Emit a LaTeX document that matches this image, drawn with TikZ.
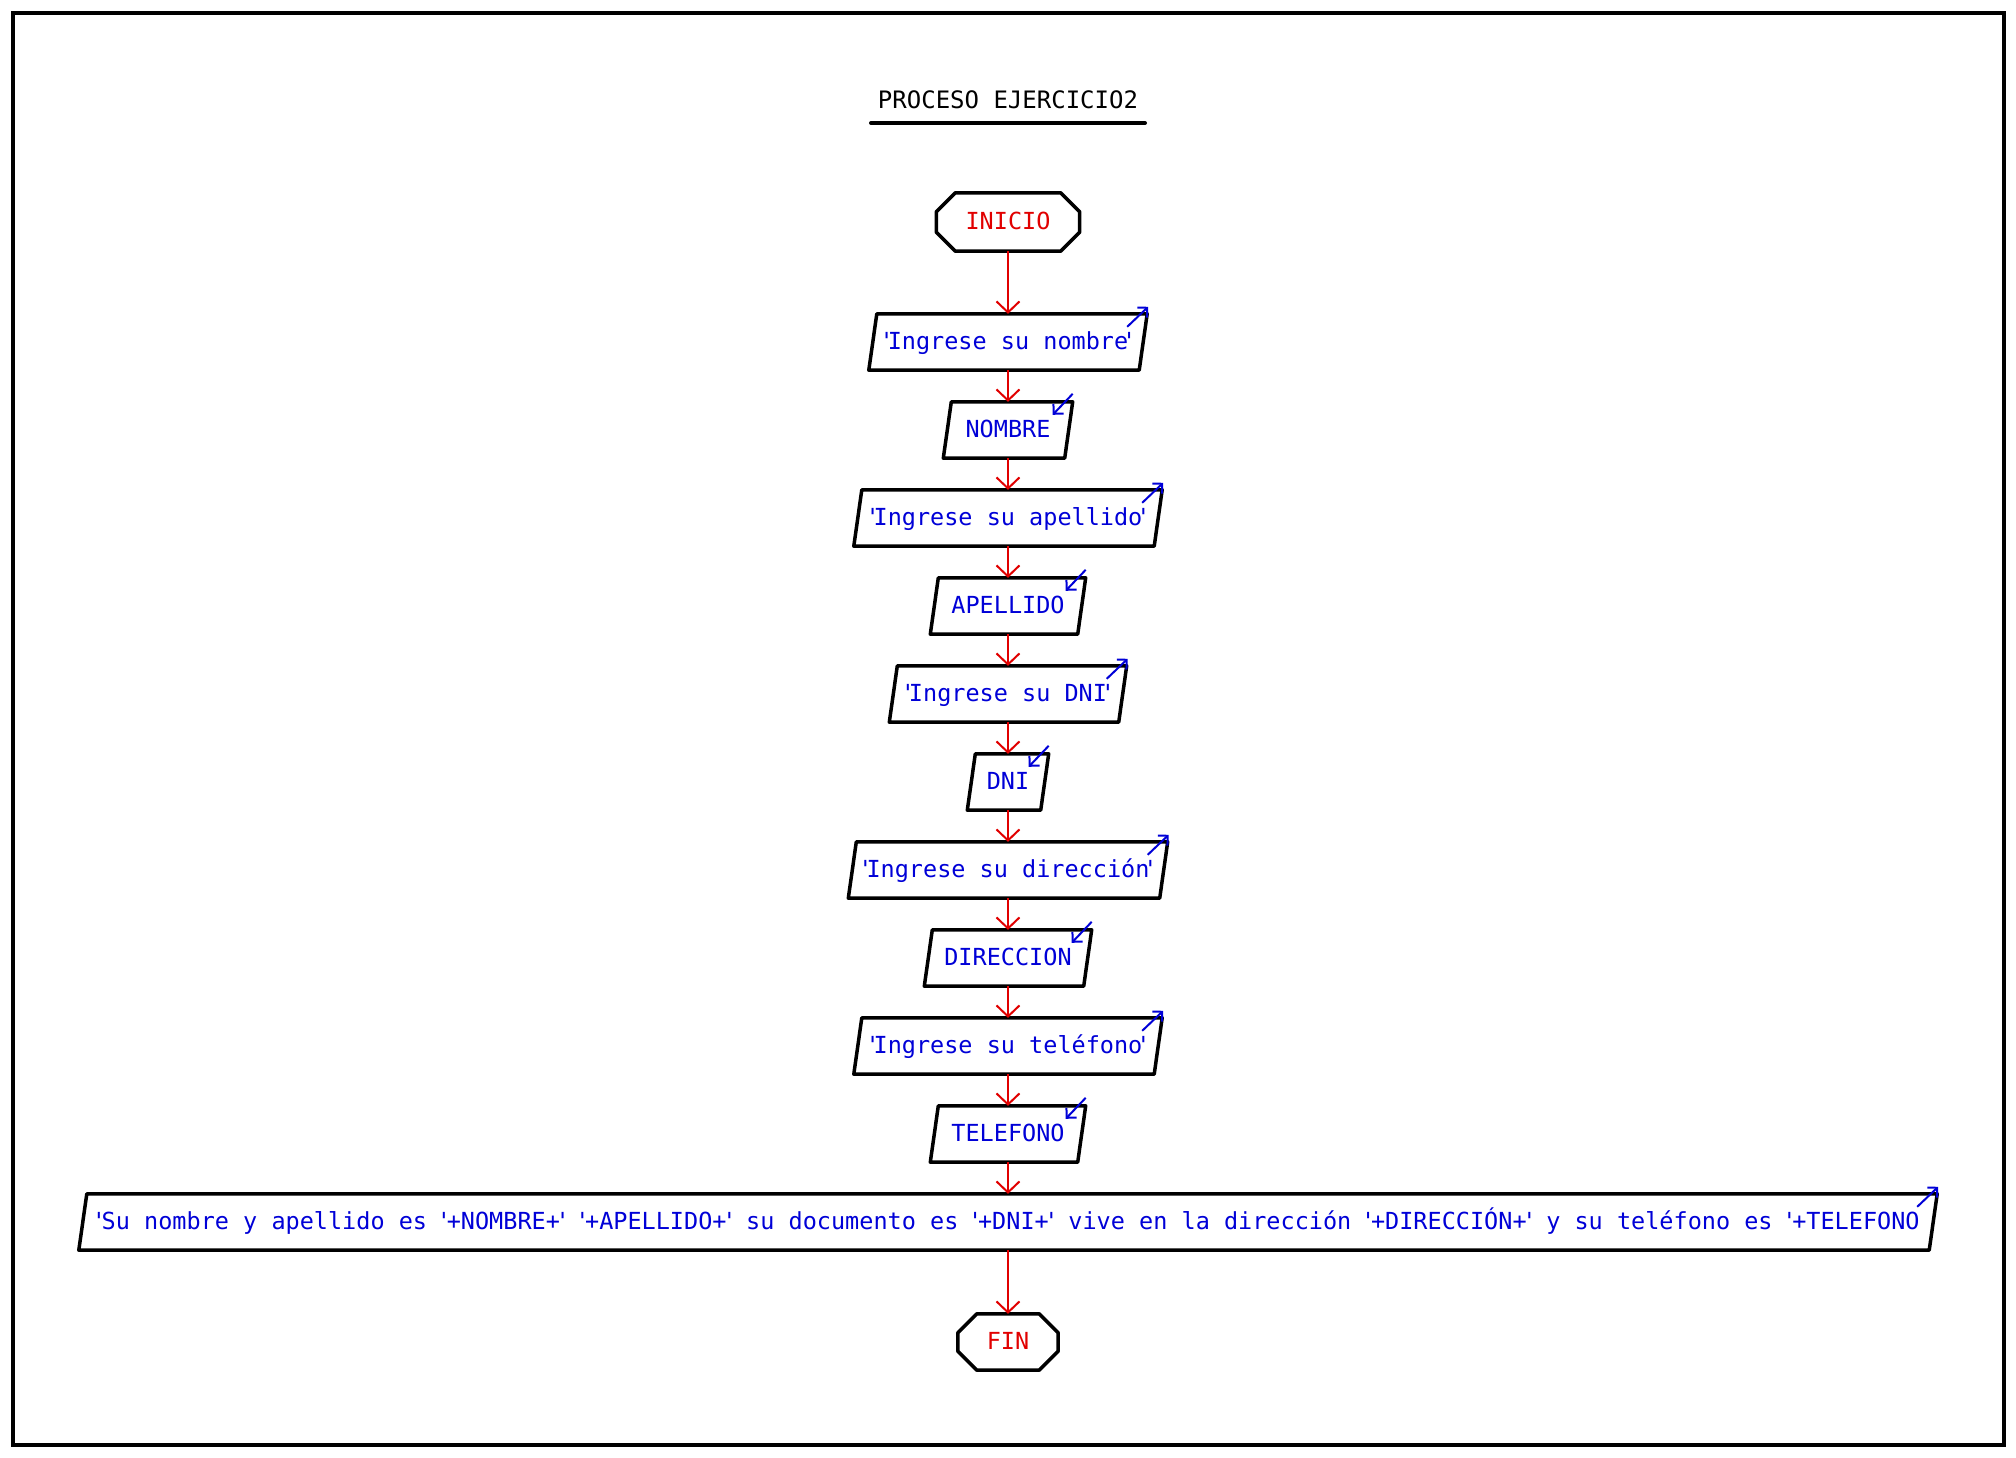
\documentclass[tikz,border=0pt]{standalone}
\usepackage{fontspec}
\newfontfamily\dmono{DejaVu Sans Mono}
\usetikzlibrary{arrows.meta}

\definecolor{flowred}{RGB}{225,0,0}
\definecolor{flowblue}{RGB}{0,0,215}

% narrow straight quotes, as the flowchart prints string delimiters
\newcommand\qt{\makebox[2pt]{\symbol{39}}}
\newcommand\qtw{\makebox[5.5pt]{\symbol{39}}}

\tikzset{
  lbl/.style={font=\dmono\fontsize{23.5}{28}\selectfont, inner sep=0pt,
              text height=17pt, text depth=2pt},
  iobox/.style={lbl, text=flowblue, minimum height=56pt},
  termbox/.style={lbl, text=flowred, minimum height=58pt},
  outline/.style={draw=black, line width=3.5pt, line join=round},
  flow/.style={draw=flowred, line width=2pt, -{Straight Barb[length=11pt,width=23pt]}},
  ioarrow/.style={draw=flowblue, line width=2pt, -{Straight Barb[length=7pt,width=14pt]}},
}

% parallelogram outline around a named node
\newcommand\paraout[1]{%
  \draw[outline] ([xshift=4pt]#1.north west) -- ([xshift=4pt]#1.north east)
    -- ([xshift=-4pt]#1.south east) -- ([xshift=-4pt]#1.south west) -- cycle;}
% octagon outline around a named node
\newcommand\octout[1]{%
  \draw[outline] ([xshift=19pt]#1.north west) -- ([xshift=-19pt]#1.north east)
    -- ([yshift=-19pt]#1.north east) -- ([yshift=19pt]#1.south east)
    -- ([xshift=-19pt]#1.south east) -- ([xshift=19pt]#1.south west)
    -- ([yshift=19pt]#1.south west) -- ([yshift=-19pt]#1.north west) -- cycle;}
% output marker (arrow leaving the top right corner)
\newcommand\outmark[1]{%
  \draw[ioarrow] ([xshift=-16pt,yshift=-13pt]#1.north east) -- ([xshift=5pt,yshift=7pt]#1.north east);}
% input marker (arrow entering the top right corner)
\newcommand\inmark[1]{%
  \draw[ioarrow] ([xshift=4pt,yshift=8pt]#1.north east) -- ([xshift=-16pt,yshift=-13pt]#1.north east);}

\begin{document}
\begin{tikzpicture}[x=1pt,y=-1pt]
\useasboundingbox (0,0) rectangle (2016,1457);

% page frame
\draw[line width=4pt] (13,12.5) rectangle (2004,1444.5);

% title
\node[lbl, font=\dmono\fontsize{24}{28}\selectfont] (title) at (1008,101) {PROCESO EJERCICIO2};
\draw[line width=4pt, line cap=round] (871,123) -- (1145,123);

% terminals
\node[termbox, minimum width=143pt] (inicio) at (1008,222) {INICIO};
\octout{inicio}
\node[termbox, minimum width=100pt, minimum height=56pt] (fin) at (1008,1342) {FIN};
\octout{fin}

% input / output steps
\node[iobox, minimum width=270pt] (e1) at (1008,342) {\qt Ingrese su nombre\qt};
\node[iobox, minimum width=121pt] (l1) at (1008,430) {NOMBRE};
\node[iobox, minimum width=300pt] (e2) at (1008,518) {\qt Ingrese su apellido\qt};
\node[iobox, minimum width=147pt] (l2) at (1008,606) {APELLIDO};
\node[iobox, minimum width=229pt] (e3) at (1008,694) {\qt Ingrese su DNI\qt};
\node[iobox, minimum width=73pt]  (l3) at (1008,782) {DNI};
\node[iobox, minimum width=311pt] (e4) at (1008,870) {\qt Ingrese su dirección\qt};
\node[iobox, minimum width=159pt] (l4) at (1008,958) {DIRECCION};
\node[iobox, minimum width=300pt] (e5) at (1008,1046) {\qt Ingrese su teléfono\qt};
\node[iobox, minimum width=147pt] (l5) at (1008,1134) {TELEFONO};
\node[iobox, minimum width=1850pt] (res) at (1008,1222)
  {\qtw Su nombre y apellido es \qtw+NOMBRE+\qtw\ \qtw+APELLIDO+\qtw\ su documento es \qtw+DNI+\qtw\ vive en la dirección \qtw+DIRECCIÓN+\qtw\ y su teléfono es \qtw+TELEFONO};

\foreach \n in {e1,l1,e2,l2,e3,l3,e4,l4,e5,l5,res} {\paraout{\n}}
\foreach \n in {e1,e2,e3,e4,e5,res} {\outmark{\n}}
\foreach \n in {l1,l2,l3,l4,l5} {\inmark{\n}}

% connectors
\draw[flow] (inicio.south) -- (e1.north);
\draw[flow] (e1.south) -- (l1.north);
\draw[flow] (l1.south) -- (e2.north);
\draw[flow] (e2.south) -- (l2.north);
\draw[flow] (l2.south) -- (e3.north);
\draw[flow] (e3.south) -- (l3.north);
\draw[flow] (l3.south) -- (e4.north);
\draw[flow] (e4.south) -- (l4.north);
\draw[flow] (l4.south) -- (e5.north);
\draw[flow] (e5.south) -- (l5.north);
\draw[flow] (l5.south) -- (res.north);
\draw[flow] (res.south) -- (fin.north);
\end{tikzpicture}
\end{document}
